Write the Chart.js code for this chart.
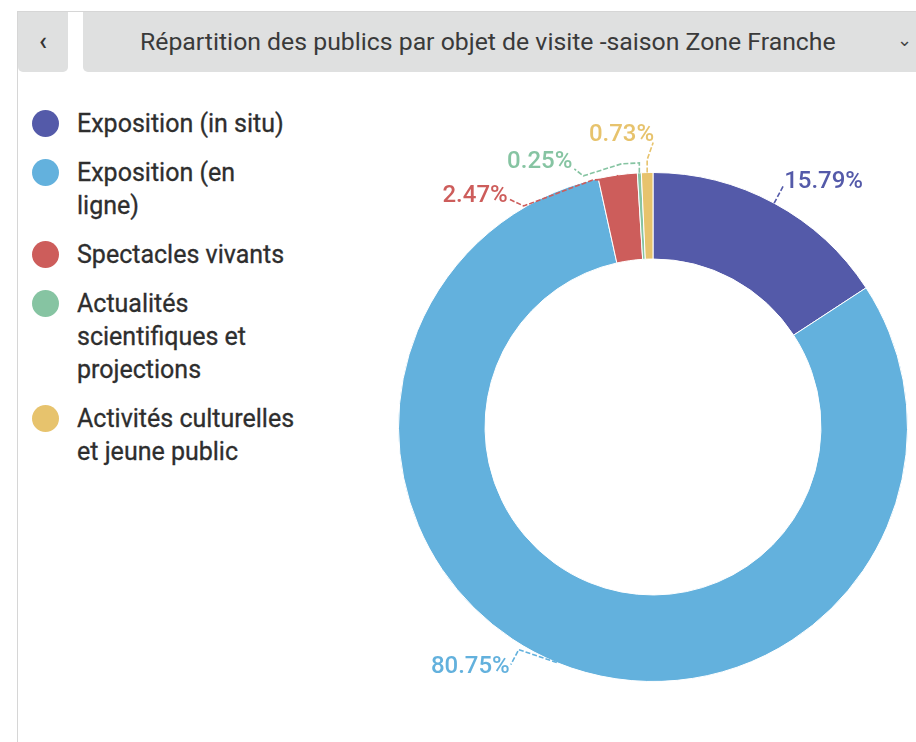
<!DOCTYPE html>
<html>
<head>
<meta charset="utf-8">
<script src="https://cdn.jsdelivr.net/npm/chart.js@4.4.1/dist/chart.umd.min.js"></script>
<style>
  html, body { margin: 0; padding: 0; background: #fff; overflow: hidden; }
  body { width: 916px; height: 742px; position: relative; font-family: Roboto, "Noto Sans", sans-serif; }
  .frame { position: absolute; left: 17px; top: 11px; right: 0; bottom: 0; border-left: 1px solid #d6d6d6; border-top: 1px solid #d6d6d6; }
  .back { position: absolute; left: 18px; top: 12px; width: 50px; height: 60px; background: #dfe0e0; border-radius: 0 0 5px 5px; color: #333; font-size: 26px; font-weight: 500; line-height: 58px; text-align: center; }
  .title { position: absolute; left: 83px; top: 12px; width: 833px; height: 60px; background: #dfe0e0; border-radius: 0 0 0 5px; }
  .title span { position: absolute; left: 57px; top: 0; line-height: 60px; font-size: 24.8px; color: #3a3a3a; white-space: nowrap; }
  .title .chev { position: absolute; left: 814px; top: 0; line-height: 56px; font-size: 18px; color: #444; }
  #legend { position: absolute; left: 32px; top: 107px; width: 280px; }
  .item { display: flex; align-items: flex-start; margin-bottom: 16px; }
  .dot { width: 27px; height: 27px; border-radius: 50%; flex: none; margin-top: 3px; }
  .lbl { margin-left: 18px; font-size: 25px; line-height: 33px; color: #2e2e2e; width: 222px; -webkit-text-stroke: 0.3px #2e2e2e; }
  #wrap { position: absolute; left: 330px; top: 80px; width: 586px; height: 662px; }
</style>
</head>
<body>
<div class="frame"></div>
<div class="back">&#8249;</div>
<div class="title"><span>Répartition des publics par objet de visite -saison Zone Franche</span><span class="chev">&#8964;</span></div>
<div id="legend"></div>
<div id="wrap"><canvas id="chart"></canvas></div>
<script>
const categories = [
  "Exposition (in situ)",
  "Exposition (en ligne)",
  "Spectacles vivants",
  "Actualités scientifiques et projections",
  "Activités culturelles et jeune public"
];
const shares = [15.79, 80.75, 2.47, 0.25, 0.73];
const colors = ["#545aa9", "#63b1dd", "#cd5d5b", "#86c4a2", "#e7c36d"];

// leader line paths, as offsets from the slice's outer mid point, plus label anchor
const leaders = [
  { pts: [[0, 0], [9, -17]], label: [10, -21], align: "left" },
  { pts: [[0, 0], [-38, -13], [-46, 2]], label: [-47, 4], align: "right" },
  { pts: [[0, 0], [-1, 4], [-25, 5], [-94, 31], [-109, 24]], label: [-110, 21], align: "right" },
  { pts: [[0, 0], [0, -10], [-18, -9], [-56, 3], [-65, -4]], label: [-67, -11], align: "right" },
  { pts: [[0, 0], [0, -13], [6, -30]], label: [7, -38], align: "right" }
];

// html legend from the same arrays
const legendEl = document.getElementById("legend");
categories.forEach((c, i) => {
  const item = document.createElement("div");
  item.className = "item";
  item.innerHTML = `<div class="dot" style="background:${colors[i]}"></div><div class="lbl">${c}</div>`;
  legendEl.appendChild(item);
});

const leaderPlugin = {
  id: "leaders",
  afterDatasetsDraw(chart) {
    const ctx = chart.ctx;
    const meta = chart.getDatasetMeta(0);
    meta.data.forEach((arc, i) => {
      const mid = (arc.startAngle + arc.endAngle) / 2;
      const x0 = arc.x + Math.cos(mid) * arc.outerRadius;
      const y0 = arc.y + Math.sin(mid) * arc.outerRadius;
      const l = leaders[i];
      ctx.save();
      ctx.strokeStyle = colors[i];
      ctx.lineWidth = 1.6;
      ctx.setLineDash([5, 2]);
      ctx.beginPath();
      l.pts.forEach((p, k) => {
        if (k === 0) ctx.moveTo(x0 + p[0], y0 + p[1]);
        else ctx.lineTo(x0 + p[0], y0 + p[1]);
      });
      ctx.stroke();
      ctx.setLineDash([]);
      ctx.fillStyle = colors[i];
      ctx.font = "500 24px Roboto";
      ctx.textAlign = l.align;
      ctx.textBaseline = "middle";
      ctx.fillText(shares[i].toFixed(2) + "%", x0 + l.label[0], y0 + l.label[1]);
      ctx.restore();
    });
  }
};

new Chart(document.getElementById("chart"), {
  type: "doughnut",
  data: {
    labels: categories,
    datasets: [{
      data: shares,
      backgroundColor: colors,
      borderColor: "#ffffff",
      borderWidth: 1,
      hoverOffset: 0
    }]
  },
  options: {
    responsive: true,
    maintainAspectRatio: false,
    animation: false,
    cutout: "66%",
    layout: { padding: { left: 68, right: 8, top: 92, bottom: 60 } },
    plugins: {
      legend: { display: false },
      tooltip: { enabled: false }
    }
  },
  plugins: [leaderPlugin]
});
</script>
</body>
</html>
